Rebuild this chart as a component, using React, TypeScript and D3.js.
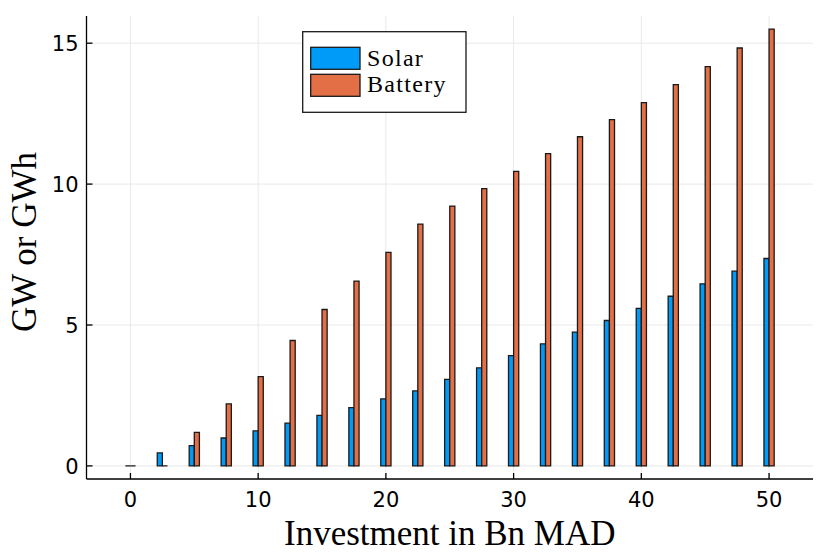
import React from 'react';
import * as d3 from 'd3';

const WIDTH = 830;
const HEIGHT = 554;

// investment levels (Bn MAD)
const investment = [0, 2.5, 5, 7.5, 10, 12.5, 15, 17.5, 20, 22.5, 25, 27.5, 30, 32.5, 35, 37.5, 40, 42.5, 45, 47.5, 50];
const solar = [0, 0.46, 0.72, 0.99, 1.24, 1.52, 1.79, 2.07, 2.38, 2.66, 3.07, 3.48, 3.91, 4.33, 4.75, 5.16, 5.59, 6.02, 6.46, 6.91, 7.36];
const battery = [0, 0, 1.19, 2.2, 3.17, 4.45, 5.55, 6.56, 7.58, 8.58, 9.22, 9.84, 10.45, 11.08, 11.68, 12.29, 12.89, 13.53, 14.17, 14.83, 15.5];

const seriesNames = ['Solar', 'Battery'];
const seriesColors = ['#009af9', '#e26f46'];
const xTicks = [0, 10, 20, 30, 40, 50];
const yTicks = [0, 5, 10, 15];

const plot = { l: 86.5, r: 813, t: 16, b: 479 };
const barW = 0.4;

const barPath = (x0: number, x1: number, y0: number, y1: number) =>
  `M${x0},${y0}L${x1},${y0}L${x1},${y1}L${x0},${y1}Z`;

const App = () => {
  const x = d3.scaleLinear().domain([-3.44, 53.44]).range([plot.l, plot.r]);
  const y = d3.scaleLinear().domain([-0.465, 15.965]).range([plot.b, plot.t]);
  const series = [solar, battery];

  return (
    <svg width={WIDTH} height={HEIGHT} style={{ position: 'absolute', left: 0, top: 0 }}>
      <rect width={WIDTH} height={HEIGHT} fill="#fff" />
      {/* grid */}
      <g stroke="#e9e9e9" strokeWidth={1}>
        {xTicks.map((t) => (
          <line key={`gx${t}`} x1={x(t)} x2={x(t)} y1={plot.t} y2={plot.b} />
        ))}
        {yTicks.map((t) => (
          <line key={`gy${t}`} x1={plot.l} x2={plot.r} y1={y(t)} y2={y(t)} />
        ))}
      </g>
      {/* bars */}
      {series.map((vals, i) => (
        <g key={seriesNames[i]} fill={seriesColors[i]} stroke="#1a1a1a" strokeWidth={1.3}>
          {vals.map((v, j) => {
            const c = investment[j];
            const x0 = i === 0 ? c - barW : c;
            return <path key={j} d={barPath(x(x0), x(x0 + barW), y(0), y(v))} />;
          })}
        </g>
      ))}
      {/* axes */}
      <g stroke="#000" strokeWidth={1.3}>
        <line x1={plot.l} x2={plot.l} y1={plot.t} y2={plot.b} />
        <line x1={plot.l} x2={plot.r} y1={plot.b} y2={plot.b} />
        {xTicks.map((t) => (
          <line key={`tx${t}`} x1={x(t)} x2={x(t)} y1={plot.b} y2={plot.b - 6} />
        ))}
        {yTicks.map((t) => (
          <line key={`ty${t}`} x1={plot.l} x2={plot.l + 6} y1={y(t)} y2={y(t)} />
        ))}
      </g>
      <g fontFamily="DejaVu Sans" fontSize={21} fill="#000">
        {xTicks.map((t) => (
          <text key={`lx${t}`} x={x(t)} y={plot.b + 28} textAnchor="middle">
            {t}
          </text>
        ))}
        {yTicks.map((t) => (
          <text key={`ly${t}`} x={plot.l - 8} y={y(t) + 8} textAnchor="end">
            {t}
          </text>
        ))}
      </g>
      <text
        x={(plot.l + plot.r) / 2}
        y={545}
        textAnchor="middle"
        fontFamily="Liberation Serif"
        fontSize={35}
      >
        Investment in Bn MAD
      </text>
      <text
        transform="translate(36,242) rotate(-90)"
        textAnchor="middle"
        fontFamily="Liberation Serif"
        fontSize={35}
      >
        GW or GWh
      </text>
      {/* legend */}
      <g>
        <rect x={302.7} y={31.7} width={163.3} height={80.6} fill="#fff" stroke="#1a1a1a" strokeWidth={1.3} />
        {seriesNames.map((name, i) => (
          <g key={name}>
            <rect
              x={310.7}
              y={47.3 + i * 27}
              width={49.3}
              height={22}
              fill={seriesColors[i]}
              stroke="#1a1a1a"
              strokeWidth={1.3}
            />
            <text
              x={367}
              y={66 + i * 26}
              fontFamily="Liberation Serif"
              fontSize={24}
              letterSpacing={1.3}
            >
              {name}
            </text>
          </g>
        ))}
      </g>
    </svg>
  );
};

export default App;
